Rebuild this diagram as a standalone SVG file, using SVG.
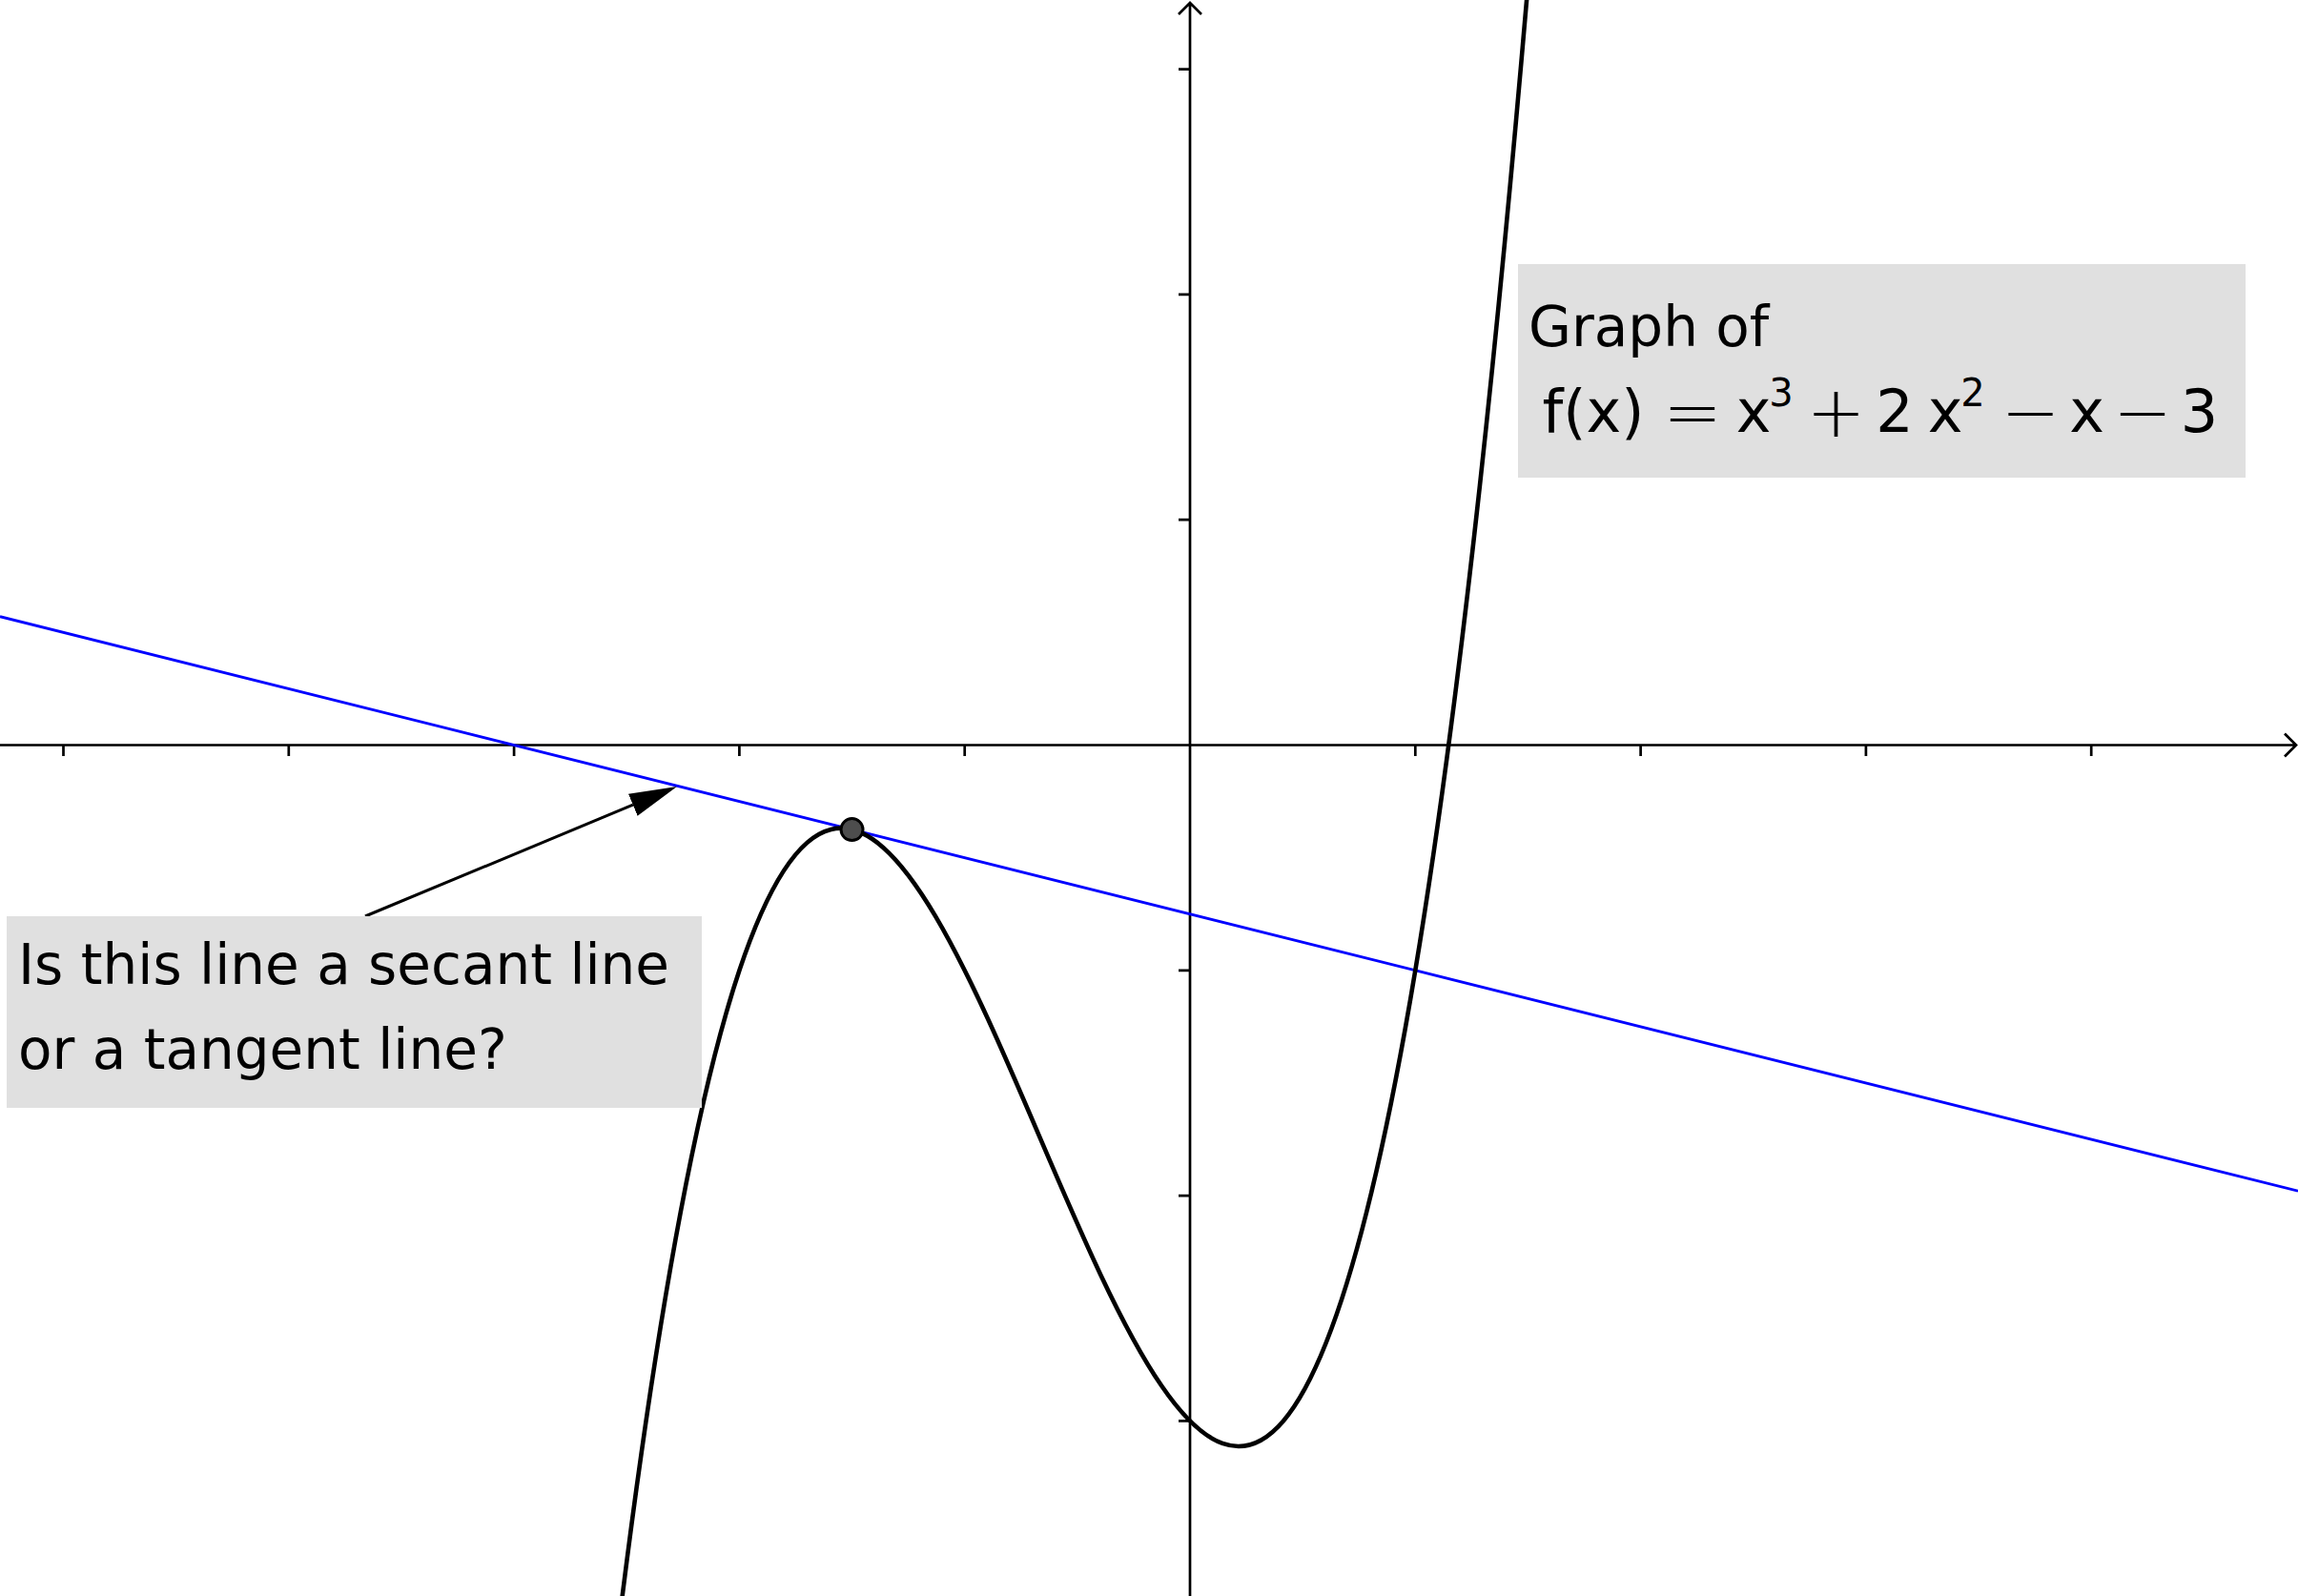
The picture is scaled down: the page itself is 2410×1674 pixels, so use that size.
<svg xmlns="http://www.w3.org/2000/svg" width="2410" height="1674" viewBox="0 0 2410 1674">
  <style>
    .axis { stroke: #000; stroke-width: 2.7; fill: none; }
    .tick { stroke: #000; stroke-width: 2.7; }
    .curve { stroke: #000; stroke-width: 4.6; fill: none; }
    .tangent { stroke: #0000ff; stroke-width: 2.8; fill: none; }
    .box { fill: #e0e0e0; }
    .label { font-family: "DejaVu Sans", "Liberation Sans", sans-serif; font-size: 58px; fill: #000; }
    .math { font-family: "DejaVu Sans", "Liberation Sans", sans-serif; font-size: 62px; fill: #000; }
    .sup { font-size: 40px; }
    .op { font-size: 74px; font-weight: 300; }
    .conn { stroke: #000; stroke-width: 3; fill: none; }
  </style>
  <defs>
    <marker id="arrowhead" markerUnits="userSpaceOnUse" markerWidth="52" markerHeight="27" refX="0" refY="12.5" orient="auto">
      <path d="M0,0 L50,12.5 L0,25 Z" fill="#000"/>
    </marker>
  </defs>
  <rect width="2410" height="1674" fill="#fff"/>

  <g id="axes">
    <path class="axis" d="M0,781.5 H2408 M2396,769.5 L2408,781.5 L2396,793.5"/>
    <path class="axis" d="M1248,1674 V3 M1236,15 L1248,3 L1260,15"/>
    <path class="tick" d="M66.5,781.5 V793 M302.8,781.5 V793 M539.1,781.5 V793 M775.4,781.5 V793 M1011.7,781.5 V793 M1484.3,781.5 V793 M1720.6,781.5 V793 M1956.9,781.5 V793 M2193.2,781.5 V793"/>
    <path class="tick" d="M1236,72.6 H1248 M1236,308.9 H1248 M1236,545.2 H1248 M1236,1017.8 H1248 M1236,1254.1 H1248 M1236,1490.4 H1248"/>
  </g>

  <g id="tangent-line">
    <path class="tangent" d="M0,646.7 L2410,1249.2"/>
  </g>

  <g id="curve-f">
    <path class="curve" d="M652.52,1675.23 C968.77,-845.64 1285.02,3693.21 1601.27,-2.17"/>
  </g>

  <g id="point-A">
    <circle cx="893.5" cy="870.1" r="11.5" fill="#4d4d4d" stroke="#000" stroke-width="3"/>
  </g>

  <g id="connectors">
    <path class="conn" d="M383,961 L663.8,844.2" marker-end="url(#arrowhead)"/>
  </g>

  <g id="label-graph">
    <rect class="box" x="1592" y="277" width="763" height="224"/>
    <text class="label" x="1603" y="363">Graph of</text>
    <text class="math" y="453" text-anchor="middle"><tspan x="1671">f(x)</tspan><tspan class="op" x="1775" y="458">=</tspan><tspan x="1839" y="453">x</tspan><tspan class="sup" x="1868" y="426">3</tspan><tspan class="op" x="1925.5" y="458">+</tspan><tspan x="1987" y="453">2</tspan><tspan x="2040">x</tspan><tspan class="sup" x="2069" y="426">2</tspan><tspan class="op" x="2129.5" y="458">−</tspan><tspan x="2188.5" y="453">x</tspan><tspan class="op" x="2247" y="458">−</tspan><tspan x="2306.5" y="453">3</tspan></text>
  </g>

  <g id="label-question">
    <rect class="box" x="7" y="961" width="729" height="201"/>
    <text class="label" x="19" y="1032">Is this line a secant line</text>
    <text class="label" x="19" y="1121">or a tangent line?</text>
  </g>
</svg>
